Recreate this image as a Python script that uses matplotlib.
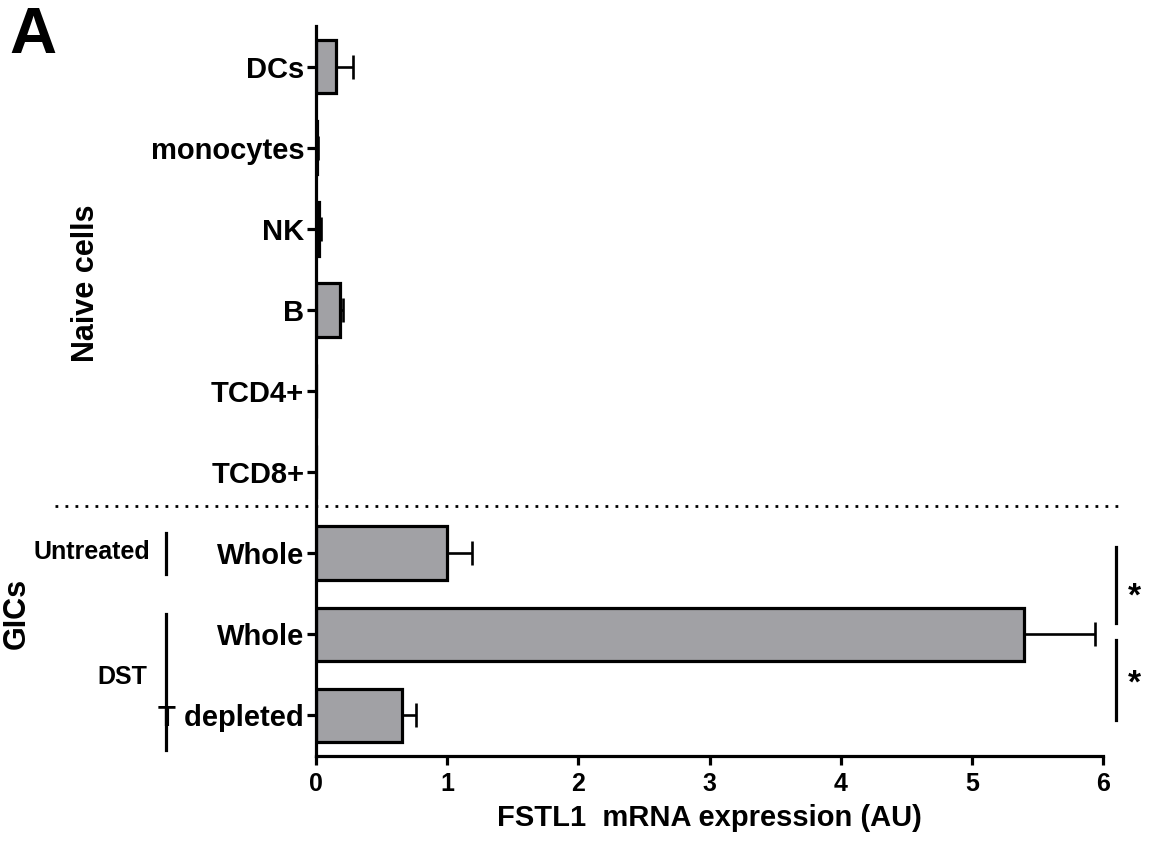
import matplotlib
matplotlib.use('Agg')
import matplotlib.pyplot as plt
import matplotlib.transforms as mtransforms
import numpy as np

plt.rcParams['font.family'] = ['Liberation Sans', 'DejaVu Sans']
plt.rcParams['font.weight'] = 'bold'

categories = ['DCs', 'monocytes', 'NK', 'B', 'TCD4+', 'TCD8+',
              'Whole', 'Whole', 'T depleted']
values = [0.15, 0.01, 0.02, 0.18, 0.003, 0.003, 1.0, 5.40, 0.655]
errors = [0.13, 0.005, 0.02, 0.025, 0.0, 0.0, 0.19, 0.54, 0.11]
xticks = [0, 1, 2, 3, 4, 5, 6]


def main():
    fig = plt.figure(figsize=(11.54, 8.42), dpi=100)
    ax = fig.add_axes([316/1154, 1-756/842, (1103-316)/1154, (756-26)/842])

    pos = np.arange(len(categories))
    ax.barh(pos, values, height=0.66, color='#a1a1a5', edgecolor='black',
            linewidth=2.3, zorder=2)
    ax.errorbar(values, pos, xerr=[np.zeros(len(errors)), errors], fmt='none',
                ecolor='black', elinewidth=1.9, capsize=8.5, capthick=1.9, zorder=3)

    ax.set_xlim(0, 6)
    ax.set_ylim(8.5, -0.5)
    ax.set_xticks(xticks)
    ax.set_xticklabels([str(t) for t in xticks], fontsize=18, fontweight='bold')
    ax.set_yticks(pos)
    ax.set_yticklabels(categories, fontsize=21, fontweight='bold')
    for s in ['top', 'right']:
        ax.spines[s].set_visible(False)
    for s in ['left', 'bottom']:
        ax.spines[s].set_linewidth(2.3)
    ax.tick_params(axis='both', width=2.3, length=6.5, direction='out')
    ax.tick_params(axis='y', pad=2)
    ax.tick_params(axis='x', pad=5)
    ax.set_xlabel('FSTL1  mRNA expression (AU)', fontsize=21, fontweight='bold',
                  labelpad=6)

    # figure-x / data-y transform for things outside the axes
    bt = mtransforms.blended_transform_factory(fig.transFigure, ax.transData)
    ax.plot([55/1154, 1125/1154], [5.42, 5.42], transform=bt, color='black',
            ls=(0, (1, 2.6)), lw=2.0, clip_on=False)

    # group brackets on the left
    ax.plot([166/1154]*2, [5.75, 6.26], transform=bt, color='black', lw=2.3, clip_on=False)
    ax.plot([166/1154]*2, [6.75, 8.42], transform=bt, color='black', lw=2.3, clip_on=False)
    ax.text(150/1154, 5.99, 'Untreated', transform=bt, ha='right', va='center',
            fontsize=18, fontweight='bold')
    ax.text(122/1154, 7.53, 'DST', transform=bt, ha='center', va='center',
            fontsize=18, fontweight='bold')
    ax.text(17/1154, 6.74, 'GICs', transform=bt, ha='center', va='center',
            rotation=90, fontsize=22, fontweight='bold')
    ax.text(86/1154, 2.67, 'Naive cells', transform=bt, ha='center', va='center',
            rotation=90, fontsize=22, fontweight='bold')

    # significance bars
    ax.plot([6.10, 6.10], [5.92, 6.86], color='black', lw=2.3, clip_on=False)
    ax.plot([6.10, 6.10], [7.07, 8.06], color='black', lw=2.3, clip_on=False)
    ax.text(6.24, 6.54, '*', ha='center', va='center', fontsize=24, fontweight='bold')
    ax.text(6.24, 7.61, '*', ha='center', va='center', fontsize=24, fontweight='bold')

    fig.text(9/1154, 1-6/842, 'A', ha='left', va='top', fontsize=47, fontweight='bold')

    fig.savefig('out.png', dpi=100)


if __name__ == '__main__':
    main()
